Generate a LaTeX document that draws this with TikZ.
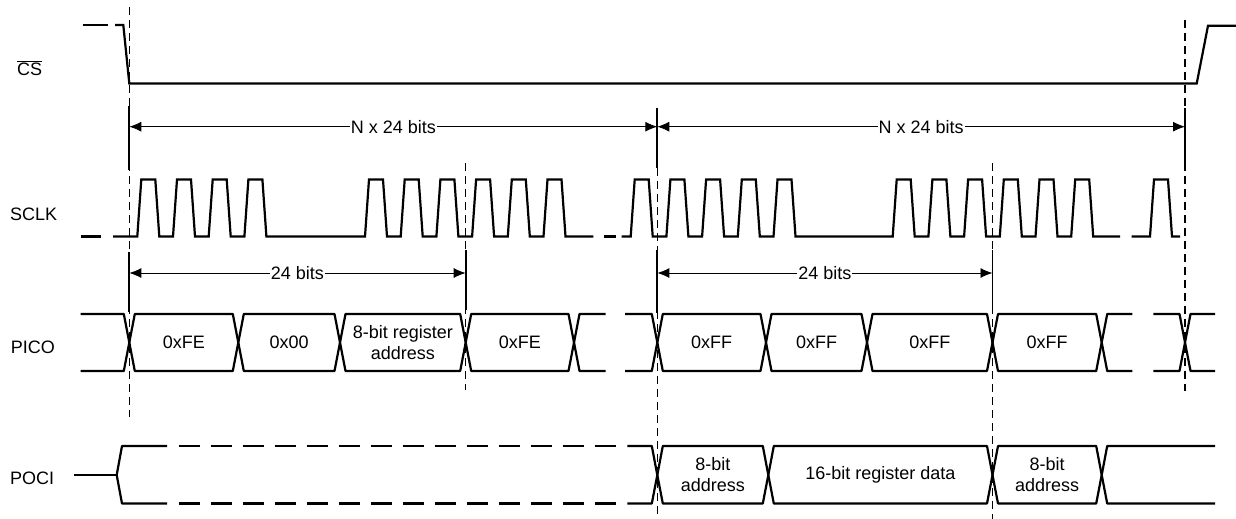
\documentclass[tikz,border=0pt]{standalone}
\usepackage{fontspec}
\setmainfont{Liberation Sans}
\usetikzlibrary{positioning,arrows.meta}
\newcommand{\sigfont}{\fontsize{18}{21}\selectfont}
\tikzset{
  signal-line/.style={line width=2.2pt, line join=round},
  signal-dash/.style={line width=2.2pt, dash pattern=on 21pt off 11.02pt},
  guide-line/.style={line width=1.1pt, dash pattern=on 8pt off 5pt},
  ext-line/.style={line width=1.8pt},
  dim-arrow/.style={{Latex[length=12pt,width=10pt]}-{Latex[length=12pt,width=10pt]}, line width=0.9pt},
  dim-text/.style={fill=white, inner sep=1pt, font=\sigfont},
  bus-text/.style={font=\sigfont, align=center, inner sep=0pt},
  signal-label/.style={font=\sigfont, anchor=base west, inner sep=0pt}
}

\begin{document}
\begin{tikzpicture}[x=1pt, y=-1pt]
\useasboundingbox (0,0) rectangle (1236,519);

% Signal names
\node[signal-label] (cs) at (17,75.5) {$\overline{\mbox{CS}}$};
\node[signal-label] (sclk) at (10,220) {SCLK};
\node[signal-label] (pico) at (10.7,353) {PICO};
\node[signal-label] (poci) at (10,484) {POCI};

% Guide lines
\draw[guide-line] (129.3,7) -- (129.3,417);
\draw[guide-line] (465.7,163) -- (465.7,390);
\draw[guide-line] (657.3,168) -- (657.3,519);
\draw[guide-line] (992.5,163) -- (992.5,519);
\draw[guide-line] (1185,20) -- (1185,391);
\draw[ext-line] (129.3,106) -- (129.3,170);
\draw[ext-line] (129.3,252) -- (129.3,312);
\draw[ext-line] (657.3,108) -- (657.3,168);
\draw[ext-line] (657.3,250) -- (657.3,313);
\draw[ext-line] (1185,108) -- (1185,167);
\draw[ext-line] (465.7,250) -- (465.7,310);
\draw[ext-line] (992.5,250) -- (992.5,313);

% Dimension arrows
\coordinate (frame0) at (129.3,126.7);
\coordinate (frame1) at (657.3,126.7);
\coordinate (frame2) at (1185,126.7);
\coordinate (word0) at (129.3,273);
\coordinate (word1) at (465.7,273);
\coordinate (word2) at (657.3,273);
\coordinate (word3) at (992.5,273);
\draw[dim-arrow] (frame0) -- node[dim-text] (nbits1) {N x 24 bits} (frame1);
\draw[dim-arrow] (frame1) -- node[dim-text] (nbits2) {N x 24 bits} (frame2);
\draw[dim-arrow] (word0) -- node[dim-text] (bits1) {24 bits} (word1);
\draw[dim-arrow] (word2) -- node[dim-text] (bits2) {24 bits} (word3);

% CS
\draw[signal-line] (82.7,25) -- (108.3,25);
\draw[signal-line, line join=miter] (115,25) -- (123.3,25) -- (129.3,83.5) -- (1196.7,83.5) -- (1208,25.7) -- (1236,25.7);

% SCLK
\draw[signal-line] (80.7,236.5) -- (100.7,236.5);
\draw[signal-line, line join=miter] (113,236.5)
  \foreach \t in {137.3,173,208.7,244.4,365,400.7,436.4,472.1,507.8,543.5}
  { -- (\t,236.5) -- (\t+4,179.5) -- (\t+18,179.5) -- (\t+22,236.5)} -- (593.3,236.5);
\draw[signal-line] (604.3,236.5) -- (616,236.5);
\draw[signal-line, line join=miter] (621.7,236.5)
  \foreach \t in {630.7,666.4,702.1,737.8,773.5,892.7,928.4,964.1,999.8,1035.5,1071.2}
  { -- (\t,236.5) -- (\t+4,179.5) -- (\t+18,179.5) -- (\t+22,236.5)} -- (1120,236.5);
\draw[signal-line, line join=miter] (1131.7,236.5)
  \foreach \t in {1150}
  { -- (\t,236.5) -- (\t+4,179.5) -- (\t+18,179.5) -- (\t+22,236.5)} -- (1180,236.5);

% PICO
\foreach \a/\b in {129.3/238.3,238.3/340,340/465.7,465.7/574,657.3/766,766/867,867/992.5,992.5/1101.7}
  \draw[signal-line] (\a,342.5) -- (\a+5.5,314) -- (\b-5.5,314) -- (\b,342.5) -- (\b-5.5,371) -- (\a+5.5,371) -- cycle;
\draw[signal-line] (80.7,314) -- (123.8,314) -- (129.3,342.5) -- (123.8,371) -- (80.7,371);
\draw[signal-line] (605.7,314) -- (579.5,314) -- (574,342.5) -- (579.5,371) -- (605.7,371);
\draw[signal-line] (625,314) -- (651.8,314) -- (657.3,342.5) -- (651.8,371) -- (625,371);
\draw[signal-line] (1132.3,314) -- (1107.2,314) -- (1101.7,342.5) -- (1107.2,371) -- (1132.3,371);
\draw[signal-line] (1153.3,314) -- (1179.5,314) -- (1185,342.5) -- (1179.5,371) -- (1153.3,371);
\draw[signal-line] (1215,314) -- (1190.5,314) -- (1185,342.5) -- (1190.5,371) -- (1215,371);
\node[bus-text] (fe1) at (183.8,342.5) {0xFE};
\node[bus-text] (zero) at (289.2,342.5) {0x00};
\node[bus-text] (regaddr) at (402.9,342.5) {8-bit register\\address};
\node[bus-text] (fe2) at (519.9,342.5) {0xFE};
\node[bus-text] (ff1) at (711.7,342.5) {0xFF};
\node[bus-text] (ff2) at (816.5,342.5) {0xFF};
\node[bus-text] (ff3) at (929.8,342.5) {0xFF};
\node[bus-text] (ff4) at (1047.1,342.5) {0xFF};

% POCI
\draw[signal-line] (74,475) -- (116.7,475);
\draw[signal-line] (167,446) -- (122,446) -- (116.7,475) -- (122,503.5) -- (167,503.5);
\draw[signal-dash] (179,446) -- (616.3,446);
\draw[signal-dash] (179,503.5) -- (616.3,503.5);
\draw[signal-line] (627.3,446) -- (651.8,446) -- (657.3,475) -- (651.8,503.5) -- (627.3,503.5);
\foreach \a/\b in {657.3/768.3,768.3/992.5,992.5/1101.7}
  \draw[signal-line] (\a,475) -- (\a+5.5,446) -- (\b-5.5,446) -- (\b,475) -- (\b-5.5,503.5) -- (\a+5.5,503.5) -- cycle;
\draw[signal-line] (1215,446) -- (1107.2,446) -- (1101.7,475) -- (1107.2,503.5) -- (1215,503.5);
\node[bus-text] (addr1) at (712.8,475) {8-bit\\address};
\node[bus-text] (regdata) at (880.4,475) {16-bit register data};
\node[bus-text] (addr2) at (1047.1,475) {8-bit\\address};
\end{tikzpicture}
\end{document}
